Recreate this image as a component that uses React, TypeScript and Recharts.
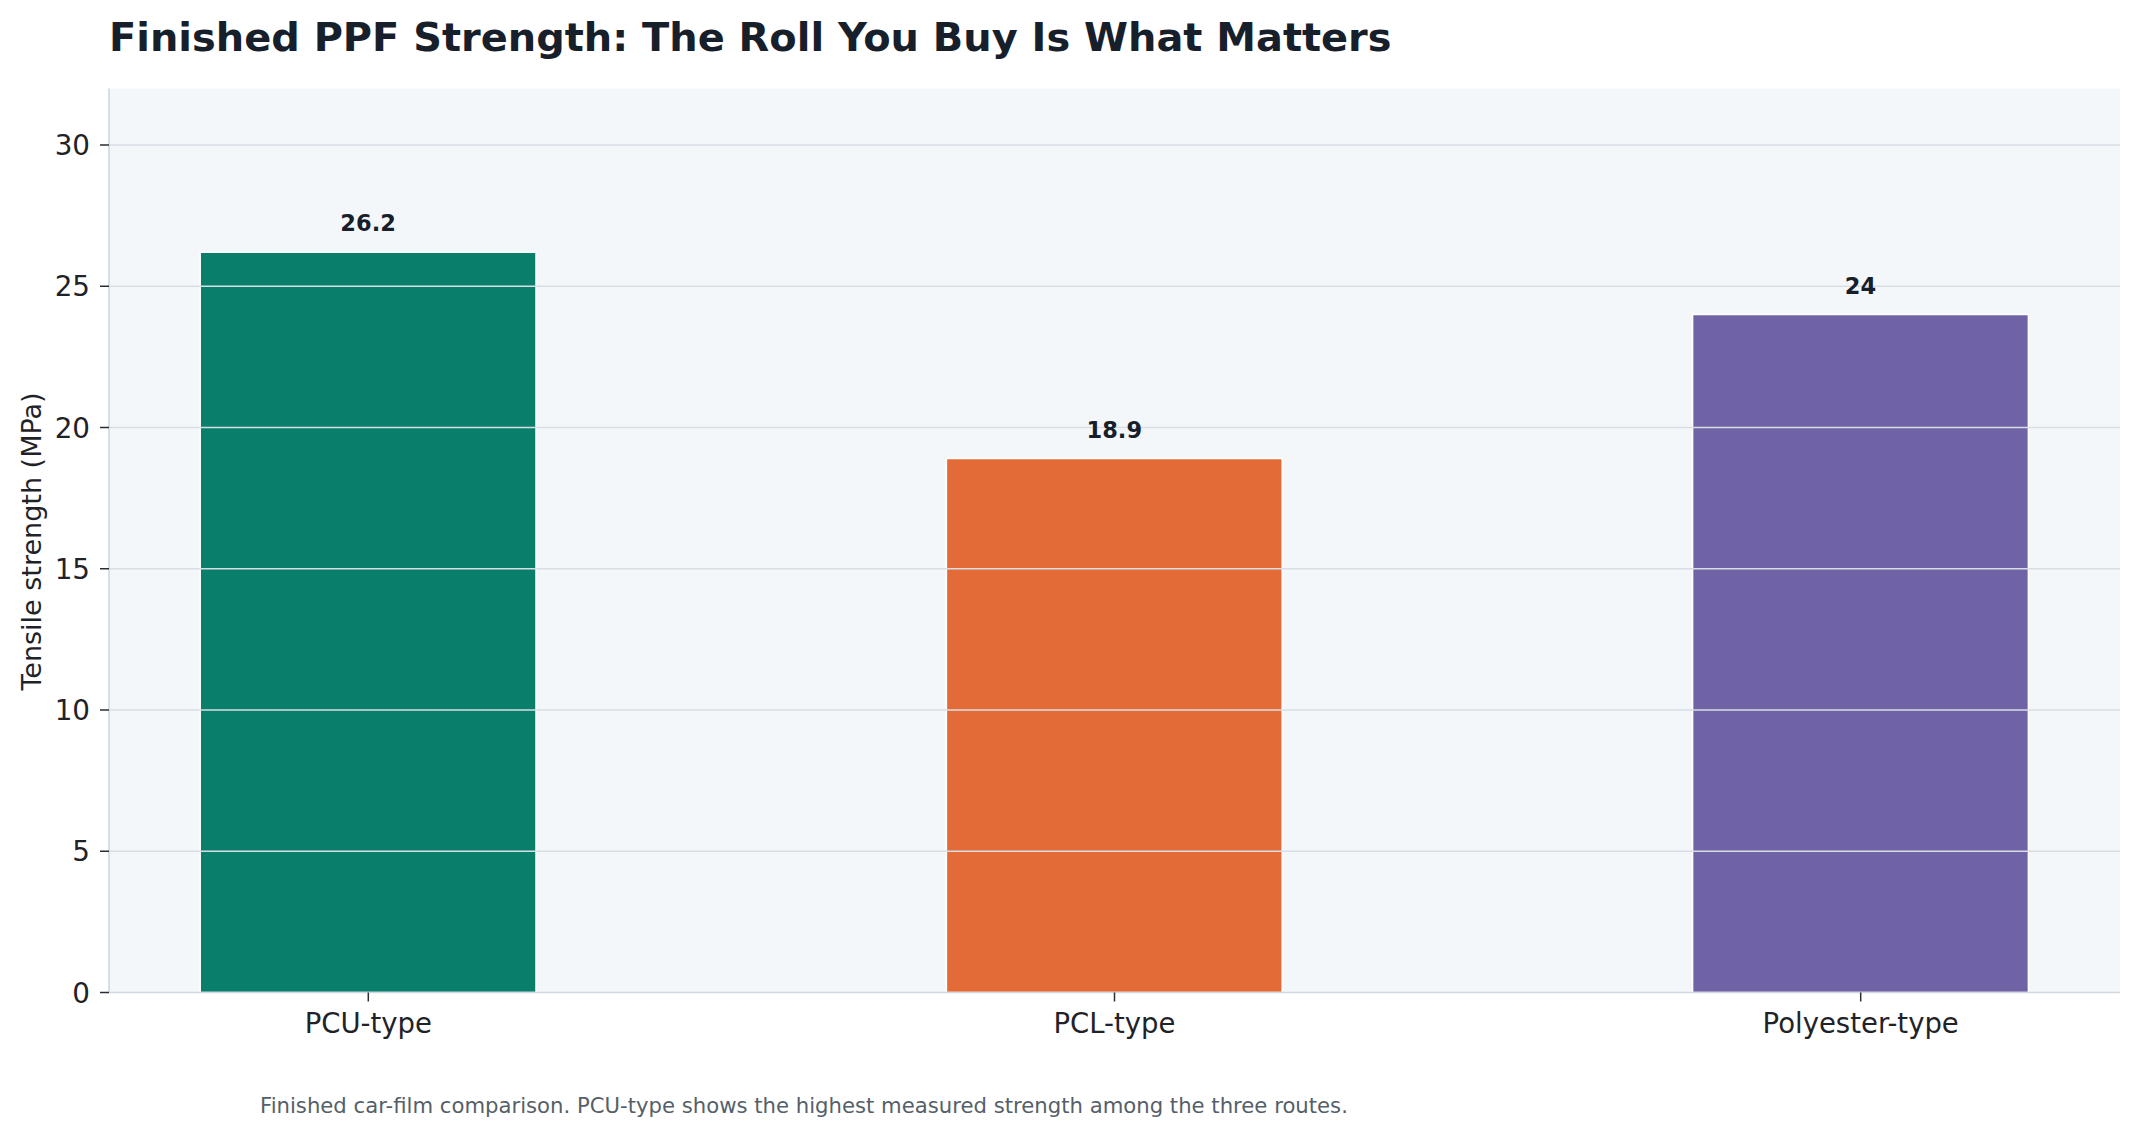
import React from "react";
import { BarChart, Bar, XAxis, YAxis, CartesianGrid, ReferenceLine, Cell, LabelList } from "recharts";

const categories = ["PCU-type", "PCL-type", "Polyester-type"];
const strengths = [26.2, 18.9, 24];
const barColors = ["#097f6b", "#e36b37", "#6f63a5"];
const yTicks = [0, 5, 10, 15, 20, 25, 30];
const xTicks = [0, 1, 2];

const data = categories.map((name, i) => ({ idx: i, name, value: strengths[i] }));

const W = 2137;
const H = 1135;
const PLOT_LEFT = 109;
const PLOT_RIGHT = 2120;
const PLOT_TOP = 88.5;
const PLOT_BOTTOM = 992.5;
const Y_AXIS_W = 80;
const X_AXIS_H = 60;
const X_DOMAIN: [number, number] = [-0.3475, 2.3475];
const BAR_SIZE = (0.45 * (PLOT_RIGHT - PLOT_LEFT)) / (X_DOMAIN[1] - X_DOMAIN[0]);

const FONT = "'DejaVu Sans', sans-serif";
const DARK = "#17202a";
const TICK_TEXT = "#1f2328";

const XTick = (props: any) => {
  const { x, y, payload } = props;
  return (
    <text x={x} y={y + 31} textAnchor="middle" fontFamily={FONT} fontSize={27.5} fill={TICK_TEXT}>
      {categories[payload.value]}
    </text>
  );
};

const YTick = (props: any) => {
  const { x, y, payload } = props;
  return (
    <text x={x} y={y} dy={10} textAnchor="end" fontFamily={FONT} fontSize={27.8} fill={TICK_TEXT}>
      {payload.value}
    </text>
  );
};

const ValueLabel = (props: any) => {
  const { x, y, width, value } = props;
  return (
    <text x={x + width / 2} y={y - 21} textAnchor="middle" fontFamily={FONT} fontSize={22.5} fontWeight="bold" fill={DARK}>
      {value}
    </text>
  );
};

export default function App() {
  return (
    <div style={{ position: "relative", width: W, height: H, background: "#ffffff" }}>
      <style>{`body{margin:0;}`}</style>
      <BarChart
        width={W}
        height={H}
        data={data}
        margin={{ top: PLOT_TOP, left: PLOT_LEFT - Y_AXIS_W, right: W - PLOT_RIGHT, bottom: H - PLOT_BOTTOM - X_AXIS_H }}
      >
        <CartesianGrid fill="#f4f7f9" horizontal={false} vertical={false} />
        <XAxis
          dataKey="idx"
          type="number"
          domain={X_DOMAIN}
          ticks={xTicks}
          interval={0}
          allowDataOverflow
          height={X_AXIS_H}
          tick={<XTick />}
          tickSize={9}
          tickMargin={0}
          axisLine={{ stroke: "#d0d7de", strokeWidth: 1.6 }}
          tickLine={{ stroke: "#2a2f35", strokeWidth: 1.5 }}
        />
        <YAxis
          type="number"
          domain={[0, 32]}
          ticks={yTicks}
          interval={0}
          width={Y_AXIS_W}
          tick={<YTick />}
          tickSize={9}
          tickMargin={10}
          axisLine={{ stroke: "#d0d7de", strokeWidth: 1.6 }}
          tickLine={{ stroke: "#2a2f35", strokeWidth: 1.5 }}
        />
        <Bar dataKey="value" barSize={BAR_SIZE} stroke="#ffffff" strokeWidth={1.5} isAnimationActive={false}>
          {data.map((d, i) => (
            <Cell key={d.name} fill={barColors[i]} />
          ))}
          <LabelList dataKey="value" content={<ValueLabel />} />
        </Bar>
        {yTicks.filter((t) => t > 0).map((t) => (
          <ReferenceLine key={t} y={t} stroke="#d9dee4" strokeWidth={1.6} zIndex={350} />
        ))}
      </BarChart>
      <svg width={W} height={H} style={{ position: "absolute", left: 0, top: 0, pointerEvents: "none" }}>
        <text x={109} y={50.5} fontFamily={FONT} fontSize={39.9} fontWeight="bold" fill={DARK}>
          Finished PPF Strength: The Roll You Buy Is What Matters
        </text>
        <text
          x={41}
          y={541.5}
          transform="rotate(-90, 41, 541.5)"
          textAnchor="middle"
          fontFamily={FONT}
          fontSize={27}
          fill={TICK_TEXT}
        >
          Tensile strength (MPa)
        </text>
        <text x={260} y={1112.7} fontFamily={FONT} fontSize={21.2} fill="#555f69">
          Finished car-film comparison. PCU-type shows the highest measured strength among the three routes.
        </text>
      </svg>
    </div>
  );
}
